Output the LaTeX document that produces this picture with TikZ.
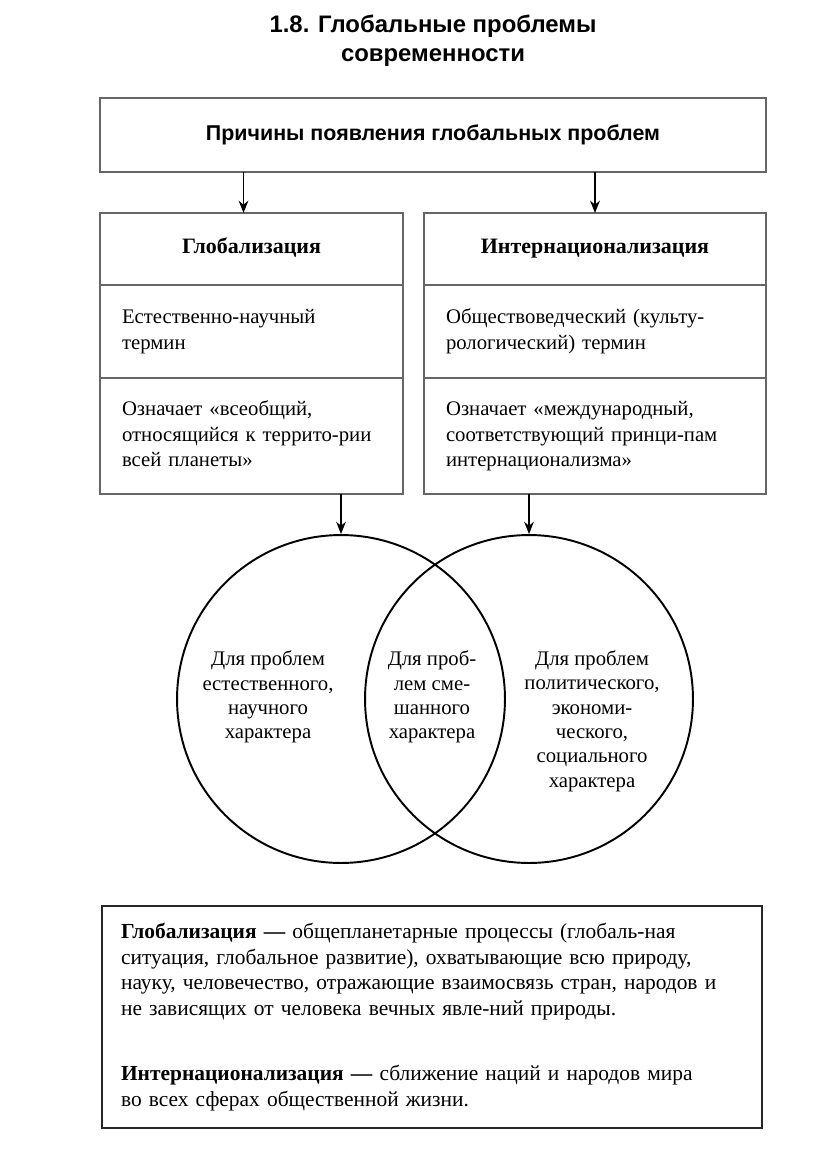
\documentclass[tikz,border=0pt]{standalone}
\usepackage{fontspec}
\setmainfont{Liberation Serif}
\setsansfont{Liberation Sans}
\usepackage{tikz}
\usetikzlibrary{positioning,arrows.meta}

\begin{document}
\begin{tikzpicture}[x=0.02cm,y=-0.02cm,
  box/.style={rectangle,draw=black!60,line width=1pt,outer sep=0pt,inner ysep=0pt},
  leftcol/.style={box,minimum width=6.06cm,text width=5.18cm,inner xsep=0.44cm},
  rightcol/.style={box,minimum width=6.84cm,text width=5.96cm,inner xsep=0.44cm},
  head/.style={align=center,font=\bfseries\fontsize{12.5}{14}\selectfont,minimum height=1.44cm,
    text height=1.7ex,text depth=0.5ex},
  rowtext/.style={align=left,font=\fontsize{11.8}{14.4}\selectfont,
    execute at begin node=\strut,execute at end node=\strut},
  ctext/.style={align=center,font=\fontsize{11.8}{13.9}\selectfont},
  ring/.style={circle,draw,line width=1.1pt,minimum size=6.56cm},
  arr/.style={-{Stealth[length=7pt,width=5.5pt]},line width=0.9pt}]

\useasboundingbox (0,0) rectangle (816,1153);

\node[align=center,font=\sffamily\bfseries\fontsize{13.6}{16.5}\selectfont] (title) at (433,41) {1.8. Глобальные проблемы\\современности};

\node[box,minimum width=13.32cm,minimum height=1.48cm,font=\sffamily\bfseries\fontsize{12.2}{15}\selectfont] (causes) at (433,135) {Причины появления глобальных проблем};

% left column
\node[leftcol,head] (globHead) at (251.5,249) {Глобализация};
\node[leftcol,rowtext,minimum height=1.86cm,below=0pt of globHead] (globTerm) {Естественно-научный\\термин};
\node[leftcol,rowtext,minimum height=2.32cm,below=0pt of globTerm] (globMean) {Означает «всеобщий,\\относящийся к террито-рии\\всей планеты»};

% right column
\node[rightcol,head] (intHead) at (595,249) {Интернационализация};
\node[rightcol,rowtext,minimum height=1.86cm,below=0pt of intHead] (intTerm) {Обществоведческий (культу-\\рологический) термин};
\node[rightcol,rowtext,minimum height=2.32cm,below=0pt of intTerm] (intMean) {Означает «международный,\\соответствующий принци-пам\\интернационализма»};

\draw[arr] ([xshift=-0.16cm]causes.south -| globHead) -- ([xshift=-0.16cm]globHead.north);
\draw[arr] (causes.south -| intHead) -- (intHead);

% circles
\node[ring] (circGlob) at (341,699) {};
\node[ring] (circInt) at (529,699) {};

\draw[arr] (globMean.south -| circGlob) -- (circGlob);
\draw[arr] (intMean.south -| circInt) -- (circInt);

\node[ctext] (natural) at (268,697) {Для проблем\\естественного,\\научного\\характера};
\node[ctext] (mixed) at (432,697) {Для проб-\\лем сме-\\шанного\\характера};
\node[ctext] (social) at (592,721) {Для проблем\\политического,\\экономи-\\ческого,\\социального\\характера};

% definitions
\node[rectangle,draw=black!85,line width=1.1pt,minimum width=13.2cm,minimum height=4.44cm,
  text width=12.44cm,inner xsep=0.38cm,align=left,font=\fontsize{12.2}{14.7}\selectfont] (defs) at (432,1017)
  {\textbf{Глобализация —} общепланетарные процессы (глобаль-ная\\
   ситуация, глобальное развитие), охватывающие всю природу,\\
   науку, человечество, отражающие взаимосвязь стран, народов и\\
   не зависящих от человека вечных явле-ний природы.\\[0.78cm]
   \textbf{Интернационализация —} сближение наций и народов мира\\
   во всех сферах общественной жизни.};

\end{tikzpicture}
\end{document}
